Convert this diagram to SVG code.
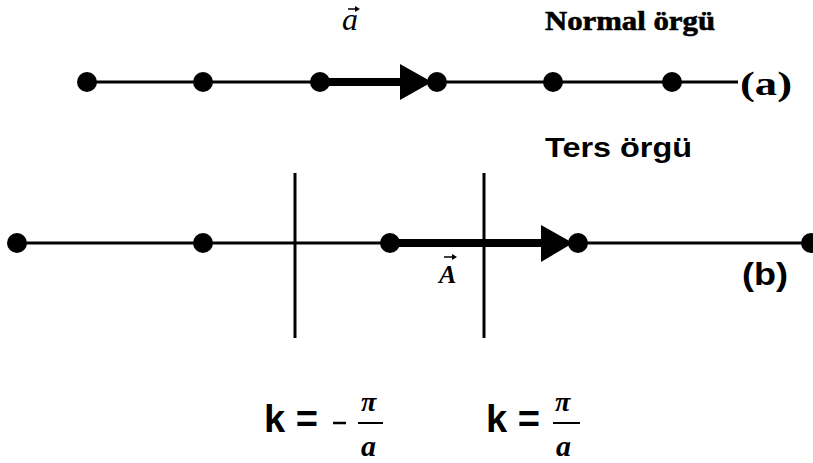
<svg xmlns="http://www.w3.org/2000/svg" width="813" height="463" viewBox="0 0 813 463">
<style>
.ln{stroke:#000;stroke-width:3;fill:none}
.thick{stroke:#000;stroke-width:8;fill:none}
.dot{fill:#000}
.serif{font-family:"Liberation Serif","Times New Roman",serif;fill:#000}
.sans{font-family:"Liberation Sans",Arial,sans-serif;fill:#000;font-weight:bold}
.vec{stroke:#000;stroke-width:1.5}
</style>
<rect width="813" height="463" fill="#fff"/>
<g id="connectors">
<line class="ln" x1="87" y1="82" x2="738" y2="82"/>
<line class="thick" x1="320" y1="82" x2="405" y2="82"/>
<polygon points="400,64 432,82 400,100" fill="#000"/>
<line class="ln" x1="17" y1="243" x2="813" y2="243"/>
<line class="thick" x1="390" y1="243" x2="546" y2="243"/>
<polygon points="541,225 573,243 541,262" fill="#000"/>
<line class="ln" x1="295" y1="173" x2="295" y2="338"/>
<line class="ln" x1="484" y1="173" x2="484" y2="338"/>
</g>
<g id="row-a">
<circle class="dot" cx="87" cy="82" r="10"/>
<circle class="dot" cx="203" cy="82" r="10"/>
<circle class="dot" cx="320" cy="82" r="10"/>
<circle class="dot" cx="437" cy="82" r="10"/>
<circle class="dot" cx="553" cy="82" r="10"/>
<circle class="dot" cx="672" cy="82" r="10"/>
</g>
<g id="row-b">
<circle class="dot" cx="17" cy="243" r="10"/>
<circle class="dot" cx="203" cy="243" r="10"/>
<circle class="dot" cx="390" cy="243" r="10"/>
<circle class="dot" cx="578" cy="243" r="10"/>
<circle class="dot" cx="811" cy="243" r="10"/>
</g>
<g id="labels">
<text class="serif" x="342" y="30" font-size="32" font-style="italic">a</text>
<line class="vec" x1="348" y1="9" x2="358" y2="9"/>
<polygon points="355,6 360,9 355,12" fill="#000"/>
<text class="serif" x="545" y="30" font-size="27" font-weight="bold" stroke="#000" stroke-width="0.6" textLength="170" lengthAdjust="spacingAndGlyphs">Normal örgü</text>
<text class="serif" x="740" y="95" font-size="34" font-weight="bold" textLength="52" lengthAdjust="spacingAndGlyphs">(a)</text>
<text class="sans" x="545" y="157" font-size="28" textLength="147" lengthAdjust="spacingAndGlyphs">Ters örgü</text>
<text class="sans" x="742" y="285" font-size="32" textLength="46" lengthAdjust="spacingAndGlyphs">(b)</text>
<text class="serif" x="439" y="283" font-size="26" font-style="italic" font-weight="bold">A</text>
<line class="vec" x1="444" y1="257" x2="455" y2="257"/>
<polygon points="452,254 457,257 452,260" fill="#000"/>
</g>
<g id="formulas">
<text class="sans" x="264" y="432" font-size="38" textLength="54" lengthAdjust="spacingAndGlyphs">k =</text>
<line x1="333" y1="423" x2="346" y2="423" stroke="#000" stroke-width="2.5"/>
<text class="serif" x="361" y="411" font-size="28" font-style="italic" font-weight="bold">π</text>
<line x1="358" y1="423" x2="383" y2="423" stroke="#000" stroke-width="2"/>
<text class="serif" x="361" y="456" font-size="30" font-style="italic" font-weight="bold">a</text>
<text class="sans" x="486" y="432" font-size="38" textLength="54" lengthAdjust="spacingAndGlyphs">k =</text>
<text class="serif" x="555" y="411" font-size="28" font-style="italic" font-weight="bold">π</text>
<line x1="553" y1="423" x2="580" y2="423" stroke="#000" stroke-width="2"/>
<text class="serif" x="556" y="456" font-size="30" font-style="italic" font-weight="bold">a</text>
</g>
</svg>
